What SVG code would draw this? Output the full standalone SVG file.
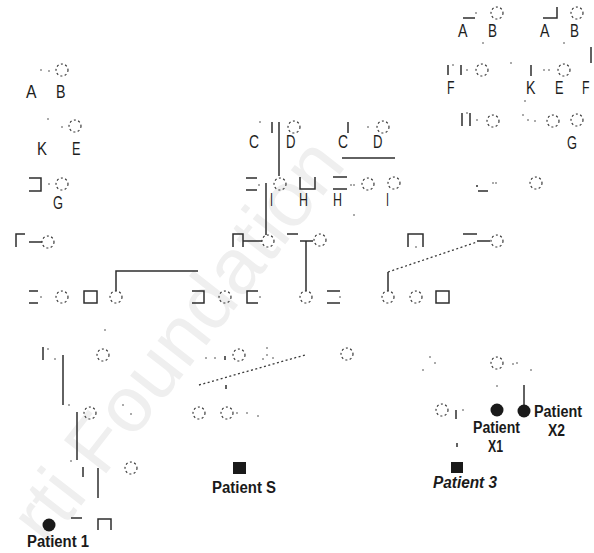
<svg xmlns="http://www.w3.org/2000/svg" width="594" height="553" viewBox="0 0 594 553">
  <style>
    .bg { fill: #ffffff; }
    .wm { font-family: "Liberation Sans", Arial, sans-serif; font-size: 78px; fill: #efefef; }
    .ln { fill: none; stroke: #2e2e2e; stroke-width: 1.5; }
    .dl { fill: none; stroke: #3a3a3a; stroke-width: 1.3; stroke-dasharray: 2 2.5; }
    .fc { fill: none; stroke: #3a3a3a; stroke-width: 1.2; stroke-dasharray: 2 2.4; }
    .aff { fill: #1a1a1a; }
    .dt { fill: #555555; }
    .lb { font-family: "Liberation Sans", Arial, sans-serif; font-size: 19px; fill: #1e1e1e; }
    .pt { font-family: "Liberation Sans", Arial, sans-serif; font-size: 16px; font-weight: bold; fill: #1a1a1a; }
    .it { font-style: italic; }
  </style>
  <defs>
    <circle id="f" r="6" class="fc"/>
    <rect id="d" x="-0.7" y="-0.7" width="1.4" height="1.4" class="dt"/>
  </defs>
  <rect class="bg" x="0" y="0" width="594" height="553"/>

  <!-- background watermark -->
  <text class="wm" x="0" y="0" transform="translate(48,548) rotate(-52)" textLength="486" lengthAdjust="spacingAndGlyphs">rti Foundation</text>

  <!-- connectors -->
  <g id="connectors">
    <path class="ln" d="M279,122 V176"/>
    <path class="ln" d="M266,183 V235"/>
    <path class="ln" d="M243,241 H262"/>
    <path class="ln" d="M29,242 H42"/>
    <path class="ln" d="M300,241 H313 M306,241 V291"/>
    <path class="ln" d="M477,241 H490"/>
    <path class="dl" d="M388,272 L477,242"/>
    <path class="ln" d="M388,272 V291"/>
    <path class="ln" d="M116,291 V271 H198"/>
    <path class="ln" d="M342,158 H395"/>
    <path class="ln" d="M63,355 V405"/>
    <path class="ln" d="M77,412 V460"/>
    <path class="ln" d="M98,468 V498"/>
    <path class="ln" d="M83,467 V477"/>
    <path class="dl" d="M199,385 L305,355"/>
    <path class="ln" d="M226,385 V389"/>
    <path class="ln" d="M524,385 V405"/>
    <path class="ln" d="M456,410 V419"/>
    <path class="ln" d="M457,443 V447"/>
    <path class="ln" d="M591,47 V63"/>
  </g>

  <!-- generation I, left side -->
  <g id="n-AB-left">
    <use href="#d" x="41" y="70"/><use href="#d" x="49" y="71"/>
    <use href="#f" x="62" y="70"/>
    <text class="lb" x="26" y="98" textLength="10.5" lengthAdjust="spacingAndGlyphs">A</text>
    <text class="lb" x="56" y="98" textLength="9.5" lengthAdjust="spacingAndGlyphs">B</text>
  </g>
  <g id="n-KE-left">
    <use href="#d" x="48" y="119"/><use href="#d" x="62" y="127"/>
    <use href="#f" x="75" y="126"/>
    <text class="lb" x="37" y="155" textLength="10" lengthAdjust="spacingAndGlyphs">K</text>
    <text class="lb" x="72" y="155" textLength="8.5" lengthAdjust="spacingAndGlyphs">E</text>
  </g>
  <g id="n-G-left">
    <path class="ln" d="M29,178 H41 V191 H29"/>
    <use href="#d" x="49" y="184"/>
    <use href="#f" x="62" y="184"/>
    <text class="lb" x="53" y="209" textLength="10" lengthAdjust="spacingAndGlyphs">G</text>
  </g>

  <!-- C / D couples -->
  <g id="n-CD-1">
    <use href="#d" x="260" y="122"/>
    <path class="ln" d="M272,122 V133"/>
    <use href="#f" x="294" y="127"/>
    <text class="lb" x="249" y="148" textLength="10" lengthAdjust="spacingAndGlyphs">C</text>
    <text class="lb" x="286" y="148" textLength="9.5" lengthAdjust="spacingAndGlyphs">D</text>
  </g>
  <g id="n-CD-2">
    <path class="ln" d="M348,122 V133"/>
    <use href="#d" x="368" y="127"/>
    <use href="#f" x="383" y="127"/>
    <text class="lb" x="338" y="148" textLength="10" lengthAdjust="spacingAndGlyphs">C</text>
    <text class="lb" x="373" y="148" textLength="9.5" lengthAdjust="spacingAndGlyphs">D</text>
  </g>

  <!-- H / I row -->
  <g id="n-I-1">
    <path class="ln" d="M246,178 H257 M246,190 H257"/>
    <use href="#d" x="259" y="185"/>
    <use href="#f" x="280" y="184"/>
    <text class="lb" x="270" y="206" textLength="3" lengthAdjust="spacingAndGlyphs">I</text>
  </g>
  <g id="n-H-1">
    <path class="ln" d="M300,177 V189 H315 V177"/>
    <text class="lb" x="299" y="206" textLength="9" lengthAdjust="spacingAndGlyphs">H</text>
  </g>
  <g id="n-H-2">
    <path class="ln" d="M333,177 H347 M333,189 H347"/>
    <use href="#d" x="351" y="185"/><use href="#d" x="354" y="185"/>
    <use href="#f" x="368" y="184"/>
    <text class="lb" x="333" y="206" textLength="9" lengthAdjust="spacingAndGlyphs">H</text>
  </g>
  <g id="n-I-2">
    <use href="#f" x="394" y="183"/>
    <text class="lb" x="386" y="206" textLength="3" lengthAdjust="spacingAndGlyphs">I</text>
    <use href="#d" x="354" y="215"/>
  </g>

  <!-- right side families -->
  <g id="n-AB-r1">
    <path class="ln" d="M463,18 H475"/>
    <use href="#d" x="476" y="13"/>
    <use href="#f" x="497" y="13"/>
    <text class="lb" x="458" y="37" textLength="9.5" lengthAdjust="spacingAndGlyphs">A</text>
    <text class="lb" x="488" y="37" textLength="9" lengthAdjust="spacingAndGlyphs">B</text>
    <use href="#d" x="483" y="43"/>
  </g>
  <g id="n-AB-r2">
    <path class="ln" d="M557,7 V18 H543"/>
    <use href="#f" x="577" y="13"/>
    <text class="lb" x="540" y="37" textLength="9.5" lengthAdjust="spacingAndGlyphs">A</text>
    <text class="lb" x="570" y="37" textLength="9" lengthAdjust="spacingAndGlyphs">B</text>
    <use href="#d" x="564" y="43"/>
  </g>
  <g id="n-F-r1">
    <path class="ln" d="M448,65 V75 M461,65 V75"/>
    <use href="#d" x="453" y="65"/><use href="#d" x="467" y="70"/>
    <use href="#f" x="482" y="70"/>
    <text class="lb" x="447" y="94" textLength="7.5" lengthAdjust="spacingAndGlyphs">F</text>
    <use href="#d" x="511" y="63"/>
  </g>
  <g id="n-KEF-r2">
    <path class="ln" d="M531,65 V76"/>
    <use href="#d" x="544" y="70"/><use href="#d" x="549" y="70"/>
    <use href="#f" x="564" y="70"/>
    <text class="lb" x="526" y="94" textLength="9.5" lengthAdjust="spacingAndGlyphs">K</text>
    <text class="lb" x="555" y="94" textLength="8.5" lengthAdjust="spacingAndGlyphs">E</text>
    <text class="lb" x="582" y="94" textLength="7.5" lengthAdjust="spacingAndGlyphs">F</text>
    <use href="#d" x="525" y="101"/>
  </g>
  <g id="n-r3a">
    <path class="ln" d="M462,113 V126 M470,113 V126"/>
    <use href="#d" x="467" y="113"/><use href="#d" x="477" y="120"/>
    <use href="#f" x="493" y="121"/>
  </g>
  <g id="n-r3b">
    <use href="#d" x="523" y="115"/><use href="#d" x="528" y="120"/><use href="#d" x="535" y="121"/>
    <use href="#f" x="553" y="121"/>
    <use href="#f" x="577" y="120"/>
    <text class="lb" x="567" y="149" textLength="10" lengthAdjust="spacingAndGlyphs">G</text>
  </g>
  <g id="n-r4">
    <path class="ln" d="M478,191 H488 M476,186 H478"/>
    <use href="#d" x="493" y="183"/><use href="#d" x="496" y="183"/>
    <use href="#f" x="536" y="183"/>
  </g>

  <!-- couples, row at y 241 -->
  <g id="n-c1">
    <path class="ln" d="M16,247 V234 H25"/>
    <use href="#f" x="48" y="242"/>
  </g>
  <g id="n-c2">
    <path class="ln" d="M233,247 V234 H243 V247"/>
    <use href="#f" x="268" y="241"/>
  </g>
  <g id="n-c3">
    <path class="ln" d="M287,234 H298"/>
    <use href="#f" x="320" y="240"/>
  </g>
  <g id="n-c4">
    <path class="ln" d="M408,247 V234 H423 V247"/>
    <use href="#d" x="416" y="247"/>
  </g>
  <g id="n-c5">
    <path class="ln" d="M463,234 H477"/>
    <use href="#f" x="497" y="241"/>
  </g>

  <!-- sibships, row at y 297 -->
  <g id="n-s1">
    <path class="ln" d="M29,291 H38 M29,303 H38"/>
    <use href="#d" x="41" y="297"/>
    <use href="#f" x="62" y="297"/>
    <rect class="ln" x="84" y="291" width="13" height="12"/>
    <use href="#f" x="116" y="297"/>
  </g>
  <g id="n-s2">
    <path class="ln" d="M192,291 H204 V303 H192"/>
    <use href="#f" x="225" y="297"/>
    <path class="ln" d="M258,291 H247 V303 H258"/>
    <use href="#d" x="260" y="297"/>
  </g>
  <g id="n-s3">
    <use href="#f" x="306" y="297"/>
    <path class="ln" d="M327,291 H340 M327,303 H340"/>
    <use href="#d" x="340" y="297"/>
  </g>
  <g id="n-s4">
    <use href="#f" x="388" y="297"/>
    <use href="#f" x="416" y="297"/>
    <rect class="ln" x="436" y="291" width="13" height="12"/>
  </g>

  <!-- row at y 355 -->
  <g id="n-r355a">
    <path class="ln" d="M43,347 V360"/>
    <use href="#d" x="48" y="349"/><use href="#d" x="55" y="359"/>
    <use href="#d" x="105" y="330"/>
    <use href="#f" x="103" y="355"/>
  </g>
  <g id="n-r355b">
    <use href="#d" x="206" y="358"/><use href="#d" x="215" y="358"/>
    <path class="ln" d="M225,356 V360"/>
    <use href="#f" x="239" y="355"/>
    <use href="#d" x="267" y="348"/><use href="#d" x="267" y="355"/>
    <use href="#d" x="273" y="358"/><use href="#d" x="263" y="359"/>
  </g>
  <g id="n-r355c">
    <use href="#f" x="347" y="354"/>
  </g>
  <g id="n-r355d">
    <use href="#d" x="430" y="357"/><use href="#d" x="435" y="363"/><use href="#d" x="423" y="370"/>
  </g>
  <g id="n-r355e">
    <use href="#f" x="497" y="363"/>
    <use href="#d" x="513" y="364"/><use href="#d" x="517" y="363"/><use href="#d" x="531" y="370"/>
    <use href="#d" x="497" y="386"/>
  </g>

  <!-- row at y 412 -->
  <g id="n-r412a">
    <use href="#d" x="69" y="405"/>
    <use href="#f" x="90" y="413"/>
    <use href="#d" x="123" y="405"/><use href="#d" x="131" y="414"/>
  </g>
  <g id="n-r412b">
    <use href="#f" x="199" y="413"/>
    <use href="#f" x="227" y="413"/>
    <use href="#d" x="237" y="413"/><use href="#d" x="247" y="413"/><use href="#d" x="258" y="416"/>
  </g>
  <g id="n-r412c">
    <use href="#f" x="442" y="410"/>
    <use href="#d" x="463" y="410"/>
  </g>
  <g id="n-patient-x1">
    <circle class="aff" cx="497" cy="410" r="6.5"/>
    <text class="pt" x="473" y="433" textLength="47" lengthAdjust="spacingAndGlyphs">Patient</text>
    <text class="pt" x="488" y="452" textLength="15" lengthAdjust="spacingAndGlyphs">X1</text>
  </g>
  <g id="n-patient-x2">
    <circle class="aff" cx="524" cy="411" r="6.5"/>
    <text class="pt" x="534" y="417" textLength="48" lengthAdjust="spacingAndGlyphs">Patient</text>
    <text class="pt" x="548" y="436" textLength="17" lengthAdjust="spacingAndGlyphs">X2</text>
  </g>

  <!-- row at y 468 -->
  <g id="n-r468a">
    <use href="#d" x="71" y="461"/>
    <use href="#f" x="131" y="468"/>
  </g>
  <g id="n-patient-s">
    <rect class="aff" x="233" y="462" width="13" height="12"/>
    <text class="pt" x="212" y="493" textLength="64" lengthAdjust="spacingAndGlyphs">Patient S</text>
  </g>
  <g id="n-patient-3">
    <rect class="aff" x="451" y="462" width="12" height="11"/>
    <text class="pt it" x="433" y="488" textLength="64" lengthAdjust="spacingAndGlyphs">Patient 3</text>
  </g>

  <!-- bottom row -->
  <g id="n-patient-1">
    <circle class="aff" cx="49" cy="525" r="6.5"/>
    <text class="pt" x="27" y="547" textLength="62" lengthAdjust="spacingAndGlyphs">Patient 1</text>
  </g>
  <g id="n-r525">
    <path class="ln" d="M71,518 H82"/>
    <path class="ln" d="M98,530 V519 H111 V530"/>
  </g>
</svg>
